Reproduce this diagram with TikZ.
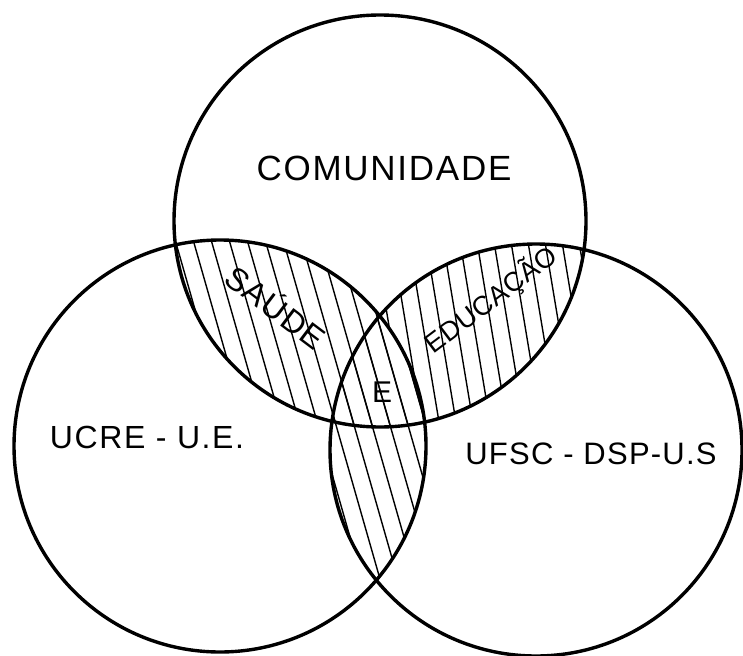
\documentclass[tikz,border=0pt]{standalone}
\usepackage{fontspec}
\setmainfont{Liberation Sans}
\begin{document}
\begin{tikzpicture}[x=1pt,y=-1pt,
  ring/.style={line width=3.4pt, draw=black},
  hatch/.style={line width=1.4pt, black},
  lbl/.style 2 args={inner sep=0pt, font=\fontsize{#1}{#1}\selectfont\addfontfeature{LetterSpace=#2}}]
\useasboundingbox (0,0) rectangle (743,655);
\coordinate (T) at (380,221);
\coordinate (L) at (220,446);
\coordinate (R) at (536,450);
\def\rr{206}
% hatching: top & left (includes centre)
\begin{scope}
  \clip (T) circle (\rr);
  \clip (L) circle (\rr);
  \foreach \x in {-40,-22,...,700} \draw[hatch] (\x,180) -- ++(120,420);
\end{scope}
% left & right
\begin{scope}
  \clip (L) circle (\rr);
  \clip (R) circle (\rr);
  \foreach \x in {-40,-22,...,700} \draw[hatch] (\x,180) -- ++(120,420);
\end{scope}
% top & right, outside left
\begin{scope}[even odd rule]
  \clip (T) circle (\rr);
  \clip (R) circle (\rr);
  \clip (0,0) rectangle (743,655) (L) circle (\rr);
  \foreach \x in {300,317,...,700} \draw[hatch] (\x,200) -- ++(60,360);
\end{scope}
% circles
\draw[ring] (T) circle (\rr);
\draw[ring] (L) circle (\rr);
\draw[ring] (R) circle (\rr);
% labels
\node[lbl={35}{5}] (com) at (384,168) {COMUNIDADE};
\node[lbl={32}{5}] (ucre) at (147,437) {UCRE - U.E.};
\node[lbl={31}{4}] (ufsc) at (591,454) {UFSC - DSP-U.S};
\node[lbl={32}{4}, rotate=-37] (saude) at (277,306) {SAÚDE};
\node[lbl={27}{2}, rotate=37] (educ) at (491,300) {EDUCAÇÃO};
\node[lbl={30}{0}] (e) at (382,392) {E};
\end{tikzpicture}
\end{document}
